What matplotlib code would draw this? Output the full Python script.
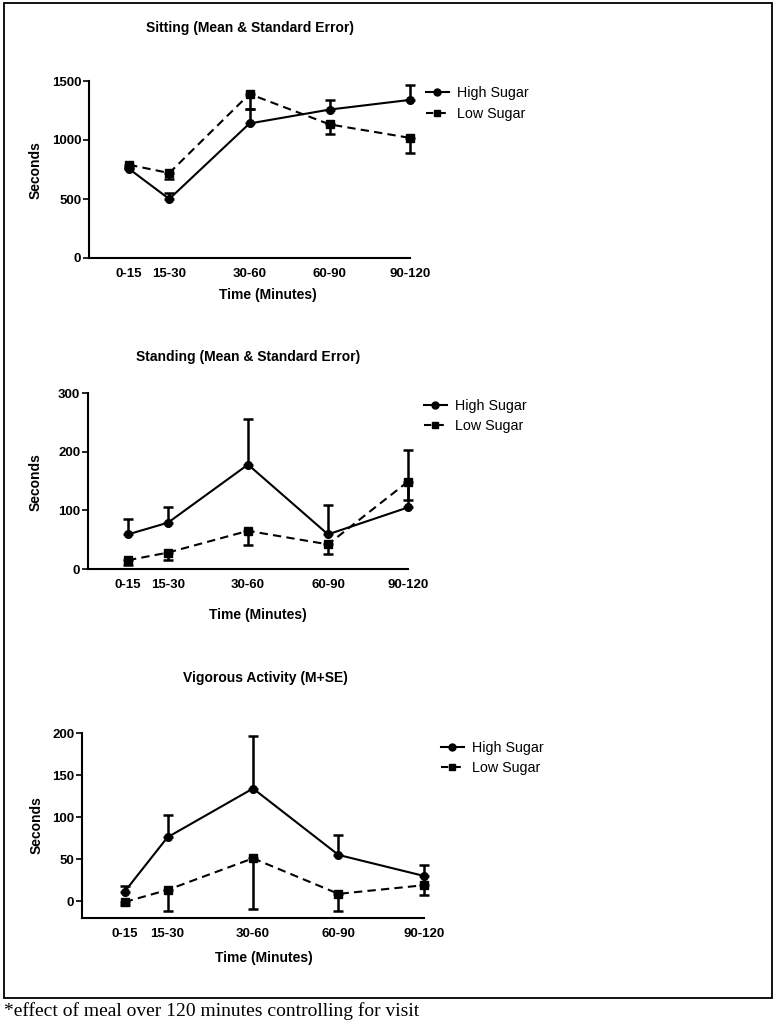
import matplotlib
matplotlib.use("Agg")
import matplotlib.pyplot as plt
from matplotlib.patches import Rectangle
from matplotlib.lines import Line2D

# ---- data ----
time_end = [15, 30, 60, 90, 120]
time_labels = ["0-15", "15-30", "30-60", "60-90", "90-120"]

sit_high = [755, 500, 1140, 1258, 1340]
sit_high_se = [20, 55, 125, 80, 122]
sit_low = [790, 720, 1390, 1132, 1018]
sit_low_se = [25, 50, 128, 85, 128]

stand_high = [59, 79, 178, 59, 105]
stand_high_se = [27, 27, 77, 50, 98]
stand_low = [15, 28, 65, 42, 149]
stand_low_se = [9, 12, 24, 17, 31]

vig_high = [11.5, 76, 134, 55, 30]
vig_high_se = [6, 26, 63, 24, 13]
vig_low = [-1, 13.4, 51, 8.7, 19]
vig_low_se = [3, 24.5, 60.5, 20, 11.5]

titles = ["Sitting (Mean & Standard Error)",
          "Standing (Mean & Standard Error)",
          "Vigorous Activity (M+SE)"]
series_names = ["High Sugar", "Low Sugar"]
footnote = "*effect of meal over 120 minutes controlling for visit"

W, H = 776, 1024
fig = plt.figure(figsize=(W / 100, H / 100), dpi=100)
plt.rcParams['font.family'] = ['Liberation Sans', 'DejaVu Sans']


def fx(px):
    return px / W


def fy(py):
    return 1 - py / H


# panel geometry in pixels: left, right, top, bottom
panels = [
    dict(box=(89, 410, 81, 258), ylim=(0, 1500), yticks=[0, 500, 1000, 1500],
         high=sit_high, hse=sit_high_se, low=sit_low, lse=sit_low_se,
         title=(250, 28), xlab=(268, 295), ylab=(36, 170),
         leg=(426, 103.5)),
    dict(box=(88, 408, 393, 569), ylim=(0, 300), yticks=[0, 100, 200, 300],
         high=stand_high, hse=stand_high_se, low=stand_low, lse=stand_low_se,
         title=(248, 357), xlab=(258, 615), ylab=(36, 482),
         leg=(424, 416)),
    dict(box=(82, 424, 733, 918), ylim=(-20, 200), yticks=[0, 50, 100, 150, 200],
         high=vig_high, hse=vig_high_se, low=vig_low, lse=vig_low_se,
         title=(265, 678), xlab=(264, 958), ylab=(37, 825),
         leg=(441, 758)),
]

for i, p in enumerate(panels):
    l, r, t, b = p['box']
    ax = fig.add_axes([fx(l), fy(b), fx(r - l), (b - t) / H])
    ax.set_xlim(0, 120)
    ax.set_ylim(*p['ylim'])
    for s in ['top', 'right']:
        ax.spines[s].set_visible(False)
    for s in ['left', 'bottom']:
        ax.spines[s].set_linewidth(1.5)
        ax.spines[s].set_color('black')
    # error bars: high upward, low downward
    for vals, se, up in [(p['high'], p['hse'], True), (p['low'], p['lse'], False)]:
        yerr = [[0] * 5, se] if up else [se, [0] * 5]
        eb = ax.errorbar(time_end, vals, yerr=yerr, fmt='none',
                         ecolor='black', elinewidth=1.8, capsize=3.5,
                         capthick=1.8, zorder=3)
        for art in eb.lines[1] + eb.lines[2]:
            art.set_clip_on(False)
    ax.plot(time_end, p['high'], '-', color='black', lw=1.5, marker='o',
            ms=5.5, zorder=4, clip_on=False)
    ax.plot(time_end, p['low'], '--', color='black', lw=1.5, marker='s',
            ms=5.5, dashes=(4, 2.5), zorder=4, clip_on=False)
    ax.set_xticks(time_end)
    ax.set_xticklabels(time_labels, fontsize=9.5, fontweight='bold')
    ax.set_yticks(p['yticks'])
    ax.set_yticklabels([str(v) for v in p['yticks']], fontsize=9.5, fontweight='bold')
    ax.tick_params(axis='x', length=0, pad=7)
    ax.tick_params(axis='y', length=4, width=1.2, pad=1.5, direction='out')
    ax.patch.set_alpha(0)

    fig.text(fx(p['title'][0]), fy(p['title'][1]), titles[i], ha='center', va='center',
             fontsize=10, fontweight='bold')
    fig.text(fx(p['xlab'][0]), fy(p['xlab'][1]), "Time (Minutes)", ha='center',
             va='center', fontsize=10, fontweight='bold')
    fig.text(fx(p['ylab'][0]), fy(p['ylab'][1]), "Seconds", ha='center', va='center',
             rotation=90, fontsize=10, fontweight='bold')

    handles = [
        Line2D([], [], color='black', lw=1.5, marker='o', ms=5),
        Line2D([], [], color='black', lw=1.5, ls='--', dashes=(3.5, 2.5), marker='s', ms=5),
    ]
    fig.legend(handles, series_names, loc='center left',
               bbox_to_anchor=(fx(p['leg'][0]), fy(p['leg'][1])),
               frameon=False, fontsize=10.3, handlelength=1.6, handletextpad=0.6,
               labelspacing=0.45, borderpad=0, borderaxespad=0)

# outer frame
fig.patches.append(Rectangle((fx(4), fy(998)), fx(772 - 4), (998 - 3) / H,
                             transform=fig.transFigure, fill=False,
                             edgecolor='black', linewidth=1.3))

fig.text(fx(4), fy(1011), footnote, ha='left', va='center', fontsize=14,
         family=['Liberation Serif', 'DejaVu Serif'])

fig.savefig("out.png", dpi=100)
